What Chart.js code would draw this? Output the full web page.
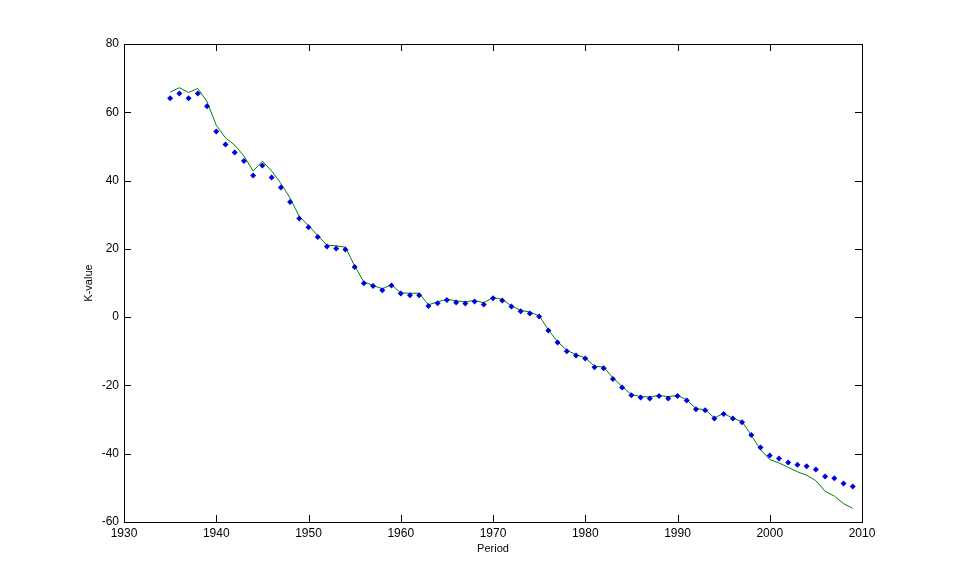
<!DOCTYPE html>
<html>
<head>
<meta charset="utf-8">
<script src="https://cdn.jsdelivr.net/npm/chart.js@4/dist/chart.umd.min.js"></script>
<style>
  html, body { margin: 0; padding: 0; background: #fff; }
  #wrap { width: 955px; height: 587px; }
</style>
</head>
<body>
<div id="wrap"><canvas id="kChart"></canvas></div>
<script>
// Data
const years = [];
for (let y = 1935; y <= 2009; y++) years.push(y);

const observed = [
    64.1, 65.5, 64.1, 65.5, 61.8, 54.4, 50.6, 48.2, 45.7, 41.5,
    44.4, 40.9, 38.0, 33.7, 28.9, 26.3, 23.5, 20.7, 20.1, 19.8,
    14.7, 9.9, 9.1, 7.9, 9.3, 6.9, 6.4, 6.4, 3.3, 4.1,
    5.0, 4.3, 4.0, 4.6, 3.7, 5.5, 4.9, 3.1, 1.7, 1.1,
    0.2, -3.9, -7.4, -10.0, -11.2, -12.1, -14.7, -15.0, -18.1, -20.6,
    -22.9, -23.5, -23.8, -23.1, -23.8, -23.1, -24.4, -27.0, -27.3, -29.7,
    -28.4, -29.7, -30.8, -34.5, -38.2, -40.5, -41.4, -42.6, -43.2, -43.7,
    -44.6, -46.7, -47.2, -48.7, -49.6
];

const fitted = [
    65.9, 67.2, 65.8, 67.0, 63.1, 56.2, 52.5, 50.4, 47.2, 42.8,
    45.7, 42.8, 39.2, 34.9, 29.5, 26.8, 23.9, 21.1, 20.9, 20.5,
    15.0, 10.3, 9.3, 8.3, 9.5, 7.1, 7.0, 7.0, 3.6, 4.5,
    5.2, 4.8, 4.5, 4.9, 4.2, 5.8, 5.2, 3.3, 2.0, 1.5,
    0.4, -3.7, -7.2, -9.7, -11.0, -11.9, -14.4, -14.6, -17.8, -20.3,
    -22.7, -23.2, -23.4, -22.9, -23.3, -22.9, -24.2, -26.8, -27.1, -29.5,
    -28.2, -29.6, -30.6, -34.6, -38.8, -41.7, -42.7, -44.0, -45.3, -46.3,
    -47.9, -51.0, -52.4, -54.6, -56.0
];

const xTicks = [1930, 1940, 1950, 1960, 1970, 1980, 1990, 2000, 2010];
const yTicks = [-60, -40, -20, 0, 20, 40, 60, 80];

// Box around the plot with inward tick marks, MATLAB style
const boxTicks = {
    id: 'boxTicks',
    afterDraw(chart) {
        const { ctx, chartArea: a, scales } = chart;
        const len = 7;
        ctx.save();
        ctx.strokeStyle = '#000';
        ctx.lineWidth = 1;
        ctx.strokeRect(a.left + 0.5, a.top + 0.5, a.right - a.left, a.bottom - a.top);
        ctx.beginPath();
        xTicks.forEach(v => {
            const px = Math.round(scales.x.getPixelForValue(v)) + 0.5;
            ctx.moveTo(px, a.bottom); ctx.lineTo(px, a.bottom - len);
            ctx.moveTo(px, a.top); ctx.lineTo(px, a.top + len);
        });
        yTicks.forEach(v => {
            const py = Math.round(scales.y.getPixelForValue(v)) + 0.5;
            ctx.moveTo(a.left, py); ctx.lineTo(a.left + len, py);
            ctx.moveTo(a.right, py); ctx.lineTo(a.right - len, py);
        });
        ctx.stroke();
        ctx.restore();
    }
};

const ctx = document.getElementById('kChart').getContext('2d');
new Chart(ctx, {
    type: 'line',
    data: {
        datasets: [
            {
                label: 'Observed',
                data: years.map((y, i) => ({ x: y, y: observed[i] })),
                showLine: false,
                pointStyle: 'rectRot',
                pointRadius: 3,
                pointBackgroundColor: '#0000e0',
                pointBorderColor: '#0000e0',
                pointBorderWidth: 0,
                order: 1
            },
            {
                label: 'Fitted',
                data: years.map((y, i) => ({ x: y, y: fitted[i] })),
                borderColor: '#008000',
                borderWidth: 1,
                pointRadius: 0,
                tension: 0,
                order: 2
            }
        ]
    },
    options: {
        responsive: true,
        maintainAspectRatio: false,
        animation: false,
        layout: { padding: { left: 80, right: 93, top: 44, bottom: 29 } },
        plugins: {
            legend: { display: false },
            tooltip: { enabled: false }
        },
        scales: {
            x: {
                type: 'linear',
                min: 1930,
                max: 2010,
                afterBuildTicks: s => { s.ticks = xTicks.map(v => ({ value: v })); },
                afterFit: s => { s.height = 36; },
                grid: { display: false, drawTicks: false },
                border: { display: false },
                ticks: {
                    color: '#000',
                    padding: 4,
                    maxRotation: 0,
                    callback: v => String(v),
                    font: { family: 'Liberation Sans', size: 12 }
                },
                title: {
                    display: true,
                    text: 'Period',
                    color: '#000',
                    padding: { top: 0, bottom: 2 },
                    font: { family: 'Liberation Sans', size: 11 }
                }
            },
            y: {
                min: -60,
                max: 80,
                afterBuildTicks: s => { s.ticks = yTicks.map(v => ({ value: v })); },
                afterFit: s => { s.width = 44; },
                grid: { display: false, drawTicks: false },
                border: { display: false },
                ticks: {
                    color: '#000',
                    padding: 5,
                    font: { family: 'Liberation Sans', size: 12 }
                },
                title: {
                    display: true,
                    text: 'K-value',
                    color: '#000',
                    padding: { top: 2, bottom: 0 },
                    font: { family: 'Liberation Sans', size: 11 }
                }
            }
        }
    },
    plugins: [boxTicks]
});
</script>
</body>
</html>
